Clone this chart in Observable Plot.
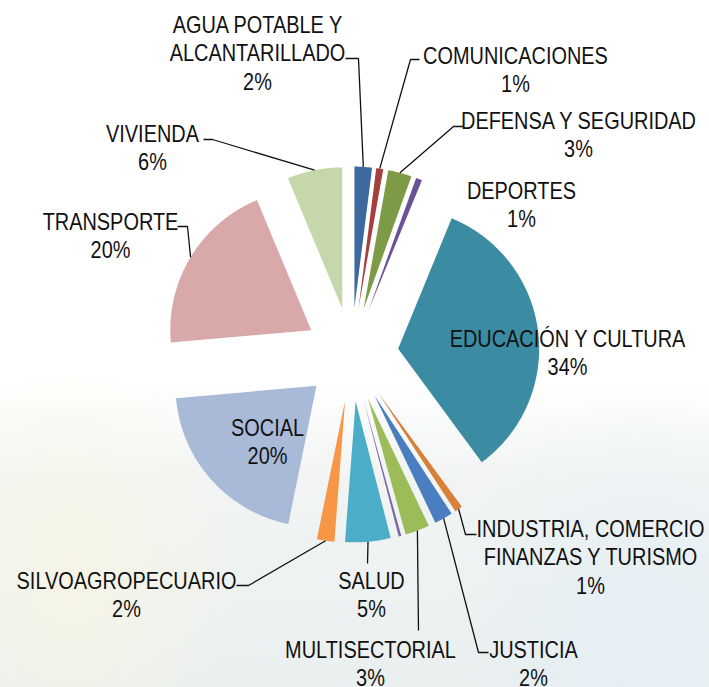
<!DOCTYPE html>
<html>
<head>
<meta charset="utf-8">
<script src="https://cdn.jsdelivr.net/npm/d3@7"></script>
<script src="https://cdn.jsdelivr.net/npm/@observablehq/plot@0.6"></script>
<style>
  html, body { margin: 0; padding: 0; background: #fff; }
  #wrap {
    width: 709px; height: 687px; position: relative; overflow: hidden;
    background:
      radial-gradient(ellipse 230px 320px at 70px 580px, rgba(251,247,222,0.6), rgba(255,255,255,0) 75%),
      radial-gradient(ellipse 260px 330px at 640px 640px, rgba(226,238,246,0.75), rgba(255,255,255,0) 75%),
      linear-gradient(to bottom, #ffffff 0px, #ffffff 380px, #f1f4f3 480px, #eaefef 687px);
  }
</style>
</head>
<body>
<div id="wrap"></div>
<script>
// ---- data ----
const categories = [
  "AGUA POTABLE Y\nALCANTARILLADO",
  "COMUNICACIONES",
  "DEFENSA Y SEGURIDAD",
  "DEPORTES",
  "EDUCACIÓN Y CULTURA",
  "INDUSTRIA, COMERCIO\nFINANZAS Y TURISMO",
  "JUSTICIA",
  "MULTISECTORIAL",
  "OTROS",
  "SALUD",
  "SILVOAGROPECUARIO",
  "SOCIAL",
  "TRANSPORTE",
  "VIVIENDA"
];
const values = [2.0, 0.8, 2.7, 0.7, 33.7, 0.9, 2.1, 2.8, 0.3, 5.2, 2.0, 20.4, 20.1, 6.3];
const showLabel = [true, true, true, true, true, true, true, true, false, true, true, true, true, true];
const colors = ["#3D6A9E", "#A63F3C", "#7D9B47", "#6A5395", "#3B8BA3", "#D8803A", "#4A7EC0",
                "#9CBC59", "#8066A6", "#4BADC7", "#F79646", "#A9B9D8", "#D9A9A9", "#C6D7AC"];

// ---- layout (label anchors: centre x, cap-top y; leader start & elbow) ----
const cx = 351, cy = 354, R = 141, explode = 47;
const labelPos = [
  [257, 12], [515, 43], [578, 108], [521, 178], [567, 326], [590, 516], [533, 637],
  [370, 637], null, [371, 568], [126, 568], [267, 415], [110, 209], [152, 121]
];
const leaderStart = [
  [345, 58], [419, 59], [463, 126], null, null, [476, 534], [488, 652],
  [418, 630], null, [367, 563], [236, 585], null, [177, 226], [203, 139]
];
const leaderElbow = [
  [358, 58], [410, 59], [453, 126], null, null, [465, 534], [478, 652],
  [418, 630], null, [367, 563], [248, 585], null, [187, 226], [212, 139]
];

// ---- geometry derived from values ----
const total = d3.sum(values);
let cum = 0;
const slices = categories.map((name, i) => {
  const a0 = cum / total * 2 * Math.PI;
  cum += values[i];
  const a1 = cum / total * 2 * Math.PI;
  return {name, i, value: values[i], a0, a1, mid: (a0 + a1) / 2};
});
const pt = (o, ang, r) => [o[0] + r * Math.sin(ang), o[1] - r * Math.cos(ang)];

const wedgePts = slices.flatMap(s => {
  const apex = pt([cx, cy], s.mid, explode);
  const n = Math.max(2, Math.ceil((s.a1 - s.a0) / 0.01));
  const arr = [{name: s.name, x: apex[0], y: apex[1]}];
  for (let k = 0; k <= n; k++) {
    const a = s.a0 + (s.a1 - s.a0) * k / n;
    const p = pt(apex, a, R);
    arr.push({name: s.name, x: p[0], y: p[1]});
  }
  return arr;
});

const leaderPts = slices.filter(s => leaderStart[s.i]).flatMap(s => {
  const apex = pt([cx, cy], s.mid, explode);
  const end = pt(apex, s.mid, R);
  return [
    {name: s.name, x: leaderStart[s.i][0], y: leaderStart[s.i][1]},
    {name: s.name, x: leaderElbow[s.i][0], y: leaderElbow[s.i][1]},
    {name: s.name, x: end[0], y: end[1]}
  ];
});

const labels = slices.filter(s => showLabel[s.i]).map(s => ({
  x: labelPos[s.i][0], y: labelPos[s.i][1],
  text: s.name + "\n" + Math.round(s.value / total * 100) + "%"
}));

const chart = Plot.plot({
  width: 709, height: 687,
  margin: 0,
  style: {background: "transparent", overflow: "hidden"},
  x: {domain: [0, 709], range: [0, 709], axis: null},
  y: {domain: [0, 687], range: [0, 687], axis: null},
  color: {domain: categories, range: colors},
  marks: [
    Plot.line(wedgePts, {x: "x", y: "y", z: "name", fill: "name", stroke: null, curve: "linear-closed"}),
    Plot.line(leaderPts, {x: "x", y: "y", z: "name", stroke: "#111", strokeWidth: 1.3, strokeLinecap: "butt", strokeLinejoin: "miter"}),
    Plot.text(labels, {
      x: "x", y: "y", text: "text",
      lineAnchor: "top", lineHeight: 1.19,
      fontSize: 24, fontFamily: "'Liberation Sans', Arial, sans-serif",
      fill: "#111", textAnchor: "middle", className: "lbl"
    })
  ]
});
// condense the label glyphs horizontally (narrow type look)
chart.querySelectorAll("g.lbl text, .lbl text").forEach(t => {
  const tr = t.getAttribute("transform");
  if (tr && !tr.includes("scale")) t.setAttribute("transform", tr + " scale(0.83,1)");
});
document.getElementById("wrap").appendChild(chart);
</script>
</body>
</html>
